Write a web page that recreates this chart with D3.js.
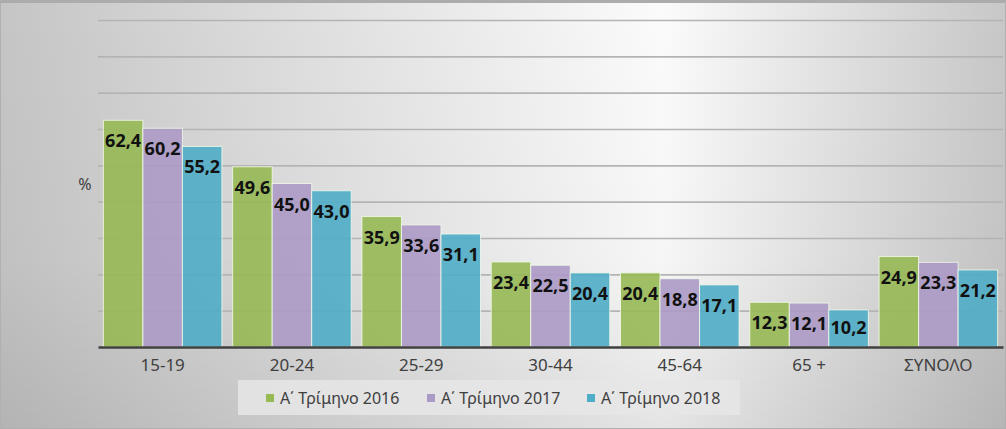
<!DOCTYPE html>
<html>
<head>
<meta charset="utf-8">
<script src="https://cdn.jsdelivr.net/npm/d3@7"></script>
<style>
  html, body { margin: 0; padding: 0; background: #fff; }
  svg { display: block; font-family: "Noto Sans", "DejaVu Sans", sans-serif; }
</style>
</head>
<body>
<div id="chart"></div>
<script>
// data
const categories = ['15-19', '20-24', '25-29', '30-44', '45-64', '65 +', 'ΣΥΝΟΛΟ'];
const seriesNames = ['Α΄ Τρίμηνο 2016', 'Α΄ Τρίμηνο 2017', 'Α΄ Τρίμηνο 2018'];
const values2016 = [62.4, 49.6, 35.9, 23.4, 20.4, 12.3, 24.9];
const values2017 = [60.2, 45.0, 33.6, 22.5, 18.8, 12.1, 23.3];
const values2018 = [55.2, 43.0, 31.1, 20.4, 17.1, 10.2, 21.2];
const gridTicks = [10, 20, 30, 40, 50, 60, 70, 80, 90];
const colors = ['#97b954', '#ac9ac6', '#4fadc8'];

const width = 1006, height = 429;
const plot = { left: 98, right: 1003, top: 20, bottom: 347 };

const seriesValues = [values2016, values2017, values2018];
const rows = categories.map((c, i) => ({
    category: c,
    vals: seriesValues.map((s, k) => ({ key: k, value: s[i] }))
}));

const svg = d3.select('#chart').append('svg')
    .attr('width', width)
    .attr('height', height);

// background gradients
const defs = svg.append('defs');
const hg = defs.append('linearGradient').attr('id', 'bgH')
    .attr('x1', 0).attr('x2', 1).attr('y1', 0).attr('y2', 0);
[[0, '#c5c5c5'], [0.3, '#dedede'], [0.66, '#fbfbfb'], [1, '#c7c7c7']]
    .forEach(([o, c]) => hg.append('stop').attr('offset', o).attr('stop-color', c));
const vg = defs.append('linearGradient').attr('id', 'bgV')
    .attr('x1', 0).attr('x2', 0).attr('y1', 0).attr('y2', 1);
vg.append('stop').attr('offset', 0).attr('stop-color', '#000').attr('stop-opacity', 0);
vg.append('stop').attr('offset', 0.6).attr('stop-color', '#000').attr('stop-opacity', 0.02);
vg.append('stop').attr('offset', 1).attr('stop-color', '#000').attr('stop-opacity', 0.09);

svg.append('rect').attr('width', width).attr('height', height).attr('fill', 'url(#bgH)');
svg.append('rect').attr('width', width).attr('height', height).attr('fill', 'url(#bgV)');

// scales
const x0 = d3.scaleBand()
    .domain(categories)
    .range([plot.left, plot.right])
    .paddingInner(0.083)
    .paddingOuter(0.0415);
const x1 = d3.scaleBand()
    .domain(d3.range(seriesNames.length))
    .range([0, x0.bandwidth()])
    .padding(0);
const y = d3.scaleLinear()
    .domain([0, 90])
    .range([plot.bottom, plot.top]);

// gridlines
svg.append('g')
    .attr('transform', `translate(${plot.left},0)`)
    .call(d3.axisLeft(y).tickValues(gridTicks).tickSize(-(plot.right - plot.left)).tickFormat(''))
    .call(g => g.select('.domain').remove())
    .call(g => g.selectAll('.tick line').attr('stroke', '#b4b4b4').attr('stroke-width', 1.6));

// bars
const groups = svg.append('g').selectAll('g')
    .data(rows)
    .join('g')
    .attr('transform', d => `translate(${x0(d.category)},0)`);

groups.selectAll('rect')
    .data(d => d.vals)
    .join('rect')
    .attr('x', d => x1(d.key))
    .attr('y', d => y(d.value))
    .attr('width', x1.bandwidth())
    .attr('height', d => y(0) - y(d.value))
    .attr('fill', d => colors[d.key])
    .attr('fill-opacity', 0.9)
    .attr('stroke', '#f4fbea')
    .attr('stroke-opacity', 0.8)
    .attr('stroke-width', 1);

// value labels inside the bar tops
groups.selectAll('text')
    .data(d => d.vals)
    .join('text')
    .attr('x', d => x1(d.key) + x1.bandwidth() / 2)
    .attr('y', d => Math.min(y(d.value) + 27, y(0) - 13))
    .attr('text-anchor', 'middle')
    .attr('font-size', 18)
    .attr('font-weight', 'bold')
    .attr('fill', '#111')
    .text(d => d.value.toFixed(1).replace('.', ','));

// x axis
svg.append('g')
    .attr('transform', `translate(0,${plot.bottom})`)
    .call(d3.axisBottom(x0).tickSize(0).tickPadding(12))
    .call(g => g.select('.domain').attr('stroke', '#404040').attr('stroke-width', 2.5))
    .call(g => g.selectAll('text')
        .attr('font-size', 17)
        .attr('fill', '#404040')
        .attr('font-family', '"Noto Sans", sans-serif'));

// y title
svg.append('text')
    .attr('x', 85)
    .attr('y', 190)
    .attr('text-anchor', 'middle')
    .attr('font-size', 16)
    .attr('fill', '#404040')
    .text('%');

// legend
const legend = svg.append('g');
legend.append('rect')
    .attr('x', 238).attr('y', 380)
    .attr('width', 502).attr('height', 35)
    .attr('fill', '#e6e6e6')
    .attr('fill-opacity', 0.85);
const legendX = [266, 427, 587];
const items = legend.selectAll('g.item')
    .data(seriesNames)
    .join('g')
    .attr('class', 'item')
    .attr('transform', (d, i) => `translate(${legendX[i]},0)`);
items.append('rect')
    .attr('x', 0).attr('y', 394)
    .attr('width', 8).attr('height', 8)
    .attr('fill', (d, i) => colors[i]);
items.append('text')
    .attr('x', 14).attr('y', 403.5)
    .attr('font-size', 16)
    .attr('fill', '#404040')
    .text(d => d);

// outer frame lines
svg.append('rect')
    .attr('x', 0.5).attr('y', 0.5)
    .attr('width', width - 1).attr('height', height - 1)
    .attr('fill', 'none')
    .attr('stroke', '#b0b0b0')
    .attr('stroke-width', 1);
svg.append('line')
    .attr('x1', 0).attr('x2', width).attr('y1', 1.5).attr('y2', 1.5)
    .attr('stroke', '#acacac').attr('stroke-width', 3);
</script>
</body>
</html>
